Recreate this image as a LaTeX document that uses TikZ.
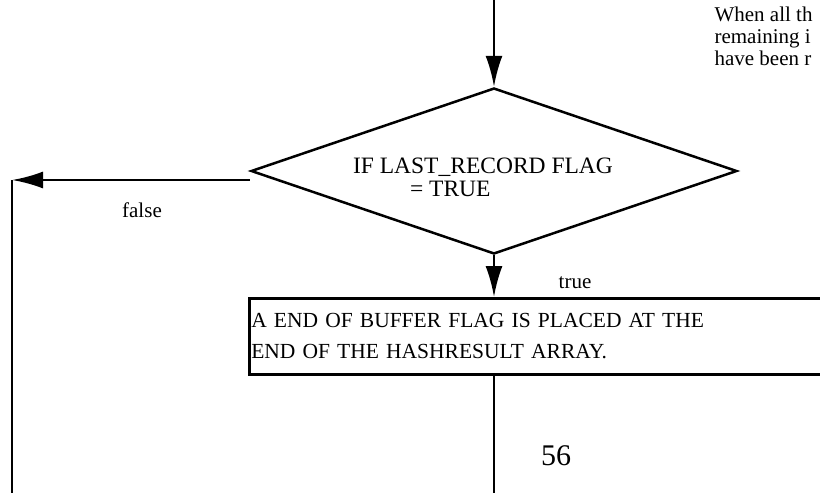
\documentclass[tikz,border=0pt]{standalone}
\usepackage{fontspec}
\setmainfont{Liberation Serif}
\usetikzlibrary{shapes.geometric,arrows.meta,positioning}
\tikzstyle{decision} = [diamond, draw, line width=2.5pt, inner sep=0pt,
    aspect=2.9, minimum width=486pt, minimum height=166pt, align=left,
    font=\fontsize{23.5}{23}\selectfont]
\tikzstyle{process} = [rectangle, draw, line width=2.5pt, inner sep=2pt,
    text width=640pt, minimum height=76pt, align=left,
    font=\fontsize{21.5}{31}\selectfont]
\tikzstyle{flow} = [draw, line width=2.5pt, -{Latex[length=31pt,width=17pt]}]
\tikzstyle{wire} = [draw, line width=2.5pt]
\tikzstyle{tag} = [font=\fontsize{21}{22}\selectfont]

\begin{document}
\begin{tikzpicture}[x=1pt, y=-1pt]
    \useasboundingbox (0,0) rectangle (820,493);

    \coordinate (entry) at (494,0);
    \node[decision] (lastRecord) at (494,171)
        {\rule{0pt}{28pt}IF LAST\_RECORD FLAG\hspace*{22pt}\\ \hspace*{57pt}= TRUE};
    \node[process, anchor=north west] (endFlag) at (248,297)
        {A END OF BUFFER FLAG IS PLACED AT THE\\END OF THE HASHRESULT ARRAY.};

    \coordinate (falseCorner) at (12,180);
    \coordinate (falseEnd) at (12,493);
    \coordinate (exit) at (494,493);

    \node[tag] (falseTag) at (142,210) {false};
    \node[tag] (trueTag) at (575,283) {true};
    \node[font=\fontsize{30}{32}\selectfont] (pageNum) at (556,456) {56};
    \node[tag, anchor=north west, align=left]
        (note) at (711,3) {When all th\\remaining i\\have been r};

    \path[flow] (entry) -- (lastRecord.north);
    \path[flow] (lastRecord.west |- falseCorner) -- (falseCorner);
    \path[wire] (falseCorner) -- (falseEnd);
    \path[flow] (lastRecord.south) -- (lastRecord.south |- endFlag.north);
    \path[wire] (lastRecord.south |- endFlag.south) -- (exit);
\end{tikzpicture}
\end{document}
